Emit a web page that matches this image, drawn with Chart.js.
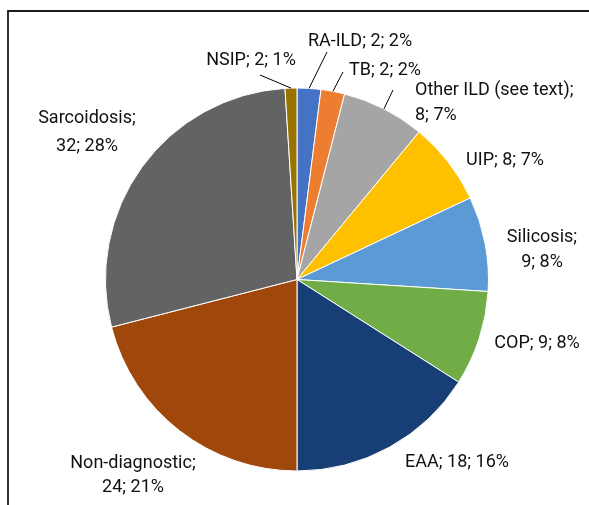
<!DOCTYPE html>
<html>
<head>
<meta charset="utf-8">
<script src="https://cdn.jsdelivr.net/npm/chart.js@4"></script>
<style>
  html, body { margin: 0; padding: 0; background: #fff; }
  #wrap { width: 589px; height: 505px; position: relative; }
</style>
</head>
<body>
<div id="wrap"><canvas id="pieChart" width="589" height="505"></canvas></div>
<script>
// slices, clockwise from 12 o'clock
const categories = ['RA-ILD', 'TB', 'Other ILD (see text)', 'UIP', 'Silicosis', 'COP', 'EAA', 'Non-diagnostic', 'Sarcoidosis', 'NSIP'];
// slice sizes follow the printed percentages
const percents = [2, 2, 7, 7, 8, 8, 16, 21, 28, 1];
// counts printed in the labels
const counts = [2, 2, 8, 8, 9, 9, 18, 24, 32, 2];
const sliceColors = ['#4472C4', '#ED7D31', '#A5A5A5', '#FFC000', '#5B9BD5', '#70AD47', '#173F75', '#A0480B', '#636363', '#997300'];

// where each label sits
const labelLayout = [
    { x: 360, y: 41, lines: 1 },
    { x: 385, y: 70, lines: 1 },
    { x: 415, y: 90, lines: 2, align: 'left', gap: 25 },
    { x: 505, y: 160, lines: 1 },
    { x: 542, y: 237, lines: 2, gap: 25 },
    { x: 537, y: 343, lines: 1 },
    { x: 457, y: 462, lines: 1 },
    { x: 133, y: 463, lines: 2, gap: 24 },
    { x: 87, y: 118, lines: 2, gap: 28 },
    { x: 251, y: 60, lines: 1 }
];
// leader line ends near the label (index -> point)
const leaders = { 0: [327, 52], 1: [343, 72], 2: [393, 90], 9: [260, 75] };

const labelPlugin = {
    id: 'pieLabels',
    afterDraw(chart) {
        const ctx = chart.ctx;
        ctx.save();
        // frame (top + left edge only visible)
        ctx.strokeStyle = '#1a1a1a';
        ctx.lineWidth = 1.8;
        ctx.beginPath();
        ctx.moveTo(589, 11);
        ctx.lineTo(8, 11);
        ctx.lineTo(8, 505);
        ctx.stroke();

        const arcs = chart.getDatasetMeta(0).data;
        // leader lines
        ctx.strokeStyle = '#000';
        ctx.lineWidth = 1;
        Object.keys(leaders).forEach(k => {
            const a = arcs[k];
            const mid = (a.startAngle + a.endAngle) / 2;
            const px = a.x + Math.cos(mid) * a.outerRadius;
            const py = a.y + Math.sin(mid) * a.outerRadius;
            ctx.beginPath();
            ctx.moveTo(leaders[k][0], leaders[k][1]);
            ctx.lineTo(px, py);
            ctx.stroke();
        });

        ctx.fillStyle = '#111';
        ctx.font = '18px Roboto, "Noto Sans", sans-serif';
        ctx.textBaseline = 'middle';
        categories.forEach((name, i) => {
            const L = labelLayout[i];
            const tail = counts[i] + '; ' + percents[i] + '%';
            const lines = L.lines === 2 ? [name + ';', tail] : [name + '; ' + tail];
            ctx.textAlign = L.align || 'center';
            lines.forEach((t, j) => ctx.fillText(t, L.x, L.y + j * (L.gap || 0)));
        });
        ctx.restore();
    }
};

new Chart(document.getElementById('pieChart').getContext('2d'), {
    type: 'pie',
    data: {
        labels: categories,
        datasets: [{
            data: percents,
            backgroundColor: sliceColors,
            borderColor: '#ffffff',
            borderWidth: 1
        }]
    },
    options: {
        responsive: false,
        animation: false,
        layout: { padding: { top: 87, bottom: 33, left: 105, right: 100 } },
        plugins: {
            legend: { display: false },
            tooltip: { enabled: false },
            title: { display: false }
        }
    },
    plugins: [labelPlugin]
});
</script>
</body>
</html>
